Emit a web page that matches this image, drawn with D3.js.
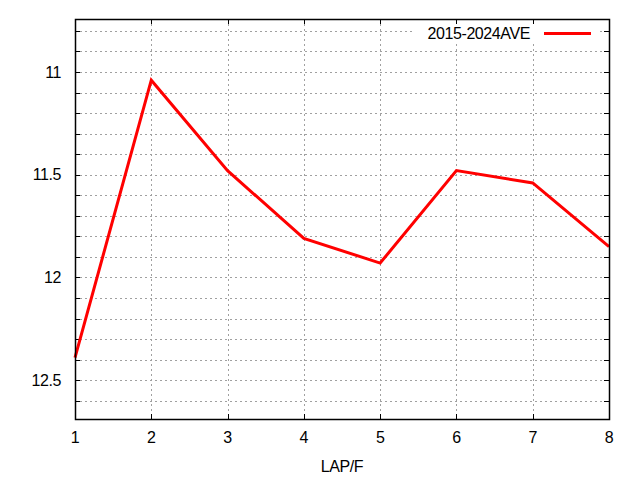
<!DOCTYPE html>
<html><head><meta charset="utf-8">
<script src="https://cdn.jsdelivr.net/npm/d3@7"></script>
<style>body{margin:0;background:#fff}svg{display:block}text{font-family:"Liberation Sans",Arial,sans-serif;letter-spacing:-0.4px}</style>
</head><body>
<script>
const laps = [1, 2, 3, 4, 5, 6, 7, 8];
const ave = [12.39, 11.04, 11.48, 11.81, 11.93, 11.48, 11.54, 11.85];
const seriesName = "2015-2024AVE";
const xLabel = "LAP/F";
const yMajorTicks = [11, 11.5, 12, 12.5];
const yMinorTicks = d3.range(10.8, 12.65, 0.1).map(v => +v.toFixed(1));

const W = 640, H = 480;
const m = {l: 75, r: 31, t: 19, b: 61};
const svg = d3.select("body").append("svg").attr("width", W).attr("height", H);
const x = d3.scaleLinear().domain([1, 8]).range([m.l, W - m.r]);
const y = d3.scaleLinear().domain([10.742, 12.689]).range([m.t, H - m.b]);
const fs = "16px";

const g = svg.append("g");
// grid
g.selectAll(".hg").data(yMinorTicks).join("line")
  .attr("x1", m.l).attr("x2", W - m.r)
  .attr("y1", d => Math.round(y(d)) + 0.5).attr("y2", d => Math.round(y(d)) + 0.5)
  .attr("stroke", "#a0a0a0").attr("stroke-dasharray", "2,3").attr("stroke-width", 1);
g.selectAll(".vg").data(laps.slice(1, -1)).join("line")
  .attr("y1", m.t).attr("y2", H - m.b)
  .attr("x1", d => Math.round(x(d)) + 0.5).attr("x2", d => Math.round(x(d)) + 0.5)
  .attr("stroke", "#a0a0a0").attr("stroke-dasharray", "2,3").attr("stroke-width", 1);

// ticks (inward, mirrored)
const tl = 5;
yMinorTicks.forEach(d => {
  const yy = Math.round(y(d)) + 0.5;
  g.append("line").attr("x1", m.l).attr("x2", m.l + tl).attr("y1", yy).attr("y2", yy).attr("stroke", "#000");
  g.append("line").attr("x1", W - m.r).attr("x2", W - m.r - tl).attr("y1", yy).attr("y2", yy).attr("stroke", "#000");
});
laps.forEach(d => {
  const xx = Math.round(x(d)) + 0.5;
  g.append("line").attr("x1", xx).attr("x2", xx).attr("y1", H - m.b).attr("y2", H - m.b - tl).attr("stroke", "#000");
  g.append("line").attr("x1", xx).attr("x2", xx).attr("y1", m.t).attr("y2", m.t + tl).attr("stroke", "#000");
});

// tick labels
g.selectAll(".yl").data(yMajorTicks).join("text")
  .attr("x", 61).attr("y", d => y(d)).attr("dy", "0.35em")
  .attr("text-anchor", "end").attr("font-size", fs).attr("fill", "#000")
  .text(d => d);
g.selectAll(".xl").data(laps).join("text")
  .attr("x", d => x(d)).attr("y", 443)
  .attr("text-anchor", "middle").attr("font-size", fs).attr("fill", "#000")
  .text(d => d);
svg.append("text").attr("x", (m.l + W - m.r) / 2).attr("y", 472)
  .attr("text-anchor", "middle").attr("font-size", fs).text(xLabel);

// data line
const line = d3.line().x((d, i) => x(laps[i])).y(d => y(d));
svg.append("path").datum(ave).attr("d", line)
  .attr("fill", "none").attr("stroke", "#ff0000").attr("stroke-width", 3).attr("stroke-linejoin", "miter");

// legend
svg.append("rect").attr("x", 413).attr("y", 24).attr("width", 185).attr("height", 19).attr("fill", "#fff");
svg.append("text").attr("x", 530).attr("y", 33).attr("dy", "0.35em")
  .attr("text-anchor", "end").attr("font-size", fs).text(seriesName);
svg.append("line").attr("x1", 544).attr("x2", 591).attr("y1", 33.5).attr("y2", 33.5)
  .attr("stroke", "#ff0000").attr("stroke-width", 3);

// border
svg.append("rect").attr("x", m.l + 0.5).attr("y", m.t + 0.5)
  .attr("width", W - m.r - m.l).attr("height", H - m.b - m.t)
  .attr("fill", "none").attr("stroke", "#000").attr("stroke-width", 1.5);
</script>
</body></html>
